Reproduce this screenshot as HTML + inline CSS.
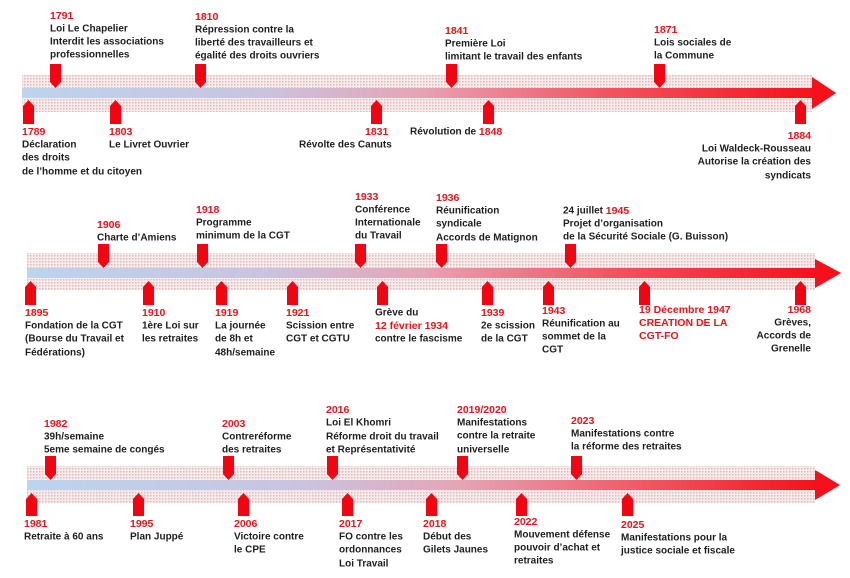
<!DOCTYPE html>
<html><head><meta charset="utf-8"><style>
html,body{margin:0;padding:0;background:#fff;}
svg{display:block}
text{font-family:"Liberation Sans",Arial,sans-serif;font-weight:bold;font-size:10px;fill:#1e1e1e;dominant-baseline:middle}
.y{fill:#e8141c;font-size:10.5px}
.r{text-anchor:end}
</style></head><body>
<svg width="850" height="578" viewBox="0 0 850 578" xmlns="http://www.w3.org/2000/svg">
<defs>
<pattern id="dots" width="3" height="3" patternUnits="userSpaceOnUse">
<rect width="3" height="3" fill="#f6ecec"/>
<rect width="1.5" height="1.5" fill="#e2b9bc"/>
</pattern>
<linearGradient id="g1" x1="0" x2="1">
<stop offset="0" stop-color="#bcd4ee"/><stop offset="0.3" stop-color="#c9c4e0"/>
<stop offset="0.5" stop-color="#e6a4b6"/><stop offset="0.75" stop-color="#f3505e"/><stop offset="1" stop-color="#f5101c"/>
</linearGradient>
<linearGradient id="g3" x1="0" x2="1">
<stop offset="0" stop-color="#bcd4ee"/><stop offset="0.35" stop-color="#c9c4e0"/>
<stop offset="0.55" stop-color="#e6a4b6"/><stop offset="0.8" stop-color="#f3505e"/><stop offset="1" stop-color="#f5101c"/>
</linearGradient>
</defs>

<rect x="22" y="75" width="790" height="37" fill="url(#dots)"/>
<rect x="22" y="88" width="792" height="10" fill="url(#g1)"/>
<polygon points="812,77 836,93 812,109" fill="#f5101c"/>
<rect x="27" y="253" width="788" height="37" fill="url(#dots)"/>
<rect x="27" y="268" width="790" height="10" fill="url(#g1)"/>
<polygon points="815,259 841,273 815,288" fill="#f5101c"/>
<rect x="27" y="466" width="788" height="37" fill="url(#dots)"/>
<rect x="27" y="480" width="790" height="10" fill="url(#g3)"/>
<polygon points="815,470 840,485 815,500" fill="#f5101c"/>

<g fill="#f20510">
<polygon points="50,64 61,64 61,82 55.5,88 50,82"/>
<polygon points="195,64 206,64 206,82 200.5,88 195,82"/>
<polygon points="446,64 457,64 457,82 451.5,88 446,82"/>
<polygon points="654,64 665,64 665,82 659.5,88 654,82"/>
<polygon points="23,124 34,124 34,106 28.5,100 23,106"/>
<polygon points="110,124 121,124 121,106 115.5,100 110,106"/>
<polygon points="371,124 382,124 382,106 376.5,100 371,106"/>
<polygon points="483,124 494,124 494,106 488.5,100 483,106"/>
<polygon points="795,124 806,124 806,106 800.5,100 795,106"/>
<polygon points="98,244 109,244 109,262 103.5,268 98,262"/>
<polygon points="197,244 208,244 208,262 202.5,268 197,262"/>
<polygon points="355,244 366,244 366,262 360.5,268 355,262"/>
<polygon points="436,244 447,244 447,262 441.5,268 436,262"/>
<polygon points="565,244 576,244 576,262 570.5,268 565,262"/>
<polygon points="25,305 36,305 36,287 30.5,281 25,287"/>
<polygon points="143,305 154,305 154,287 148.5,281 143,287"/>
<polygon points="216,305 227,305 227,287 221.5,281 216,287"/>
<polygon points="287,305 298,305 298,287 292.5,281 287,287"/>
<polygon points="377,305 388,305 388,287 382.5,281 377,287"/>
<polygon points="482,305 493,305 493,287 487.5,281 482,287"/>
<polygon points="543,305 554,305 554,287 548.5,281 543,287"/>
<polygon points="639,305 650,305 650,287 644.5,281 639,287"/>
<polygon points="795,305 806,305 806,287 800.5,281 795,287"/>
<polygon points="45,456 56,456 56,474 50.5,480 45,474"/>
<polygon points="223,456 234,456 234,474 228.5,480 223,474"/>
<polygon points="327,456 338,456 338,474 332.5,480 327,474"/>
<polygon points="457,456 468,456 468,474 462.5,480 457,474"/>
<polygon points="571,456 582,456 582,474 576.5,480 571,474"/>
<polygon points="26,516 37,516 37,499 31.5,493 26,499"/>
<polygon points="133,516 144,516 144,499 138.5,493 133,499"/>
<polygon points="238,516 249,516 249,499 243.5,493 238,499"/>
<polygon points="342,516 353,516 353,499 347.5,493 342,499"/>
<polygon points="426,516 437,516 437,499 431.5,493 426,499"/>
<polygon points="516,516 527,516 527,499 521.5,493 516,499"/>
<polygon points="622,516 633,516 633,499 627.5,493 622,499"/>
</g>

<text class="y" x="50" y="16">1791</text>
<text x="50" y="29">Loi Le Chapelier</text>
<text x="50" y="42">Interdit les associations</text>
<text x="50" y="55">professionnelles</text>

<text class="y" x="195" y="17">1810</text>
<text x="195" y="30">Répression contre la</text>
<text x="195" y="43">liberté des travailleurs et</text>
<text x="195" y="56">égalité des droits ouvriers</text>

<text class="y" x="445" y="31">1841</text>
<text x="445" y="44">Première Loi</text>
<text x="445" y="57">limitant le travail  des enfants</text>

<text class="y" x="654" y="30">1871</text>
<text x="654" y="43">Lois sociales de</text>
<text x="654" y="56">la Commune</text>

<text class="y" x="22" y="132">1789</text>
<text x="22" y="145">Déclaration</text>
<text x="22" y="158">des droits</text>
<text x="22" y="172">de l’homme et du citoyen</text>

<text class="y" x="109" y="132">1803</text>
<text x="109" y="145">Le Livret Ouvrier</text>

<text class="y" x="365" y="132">1831</text>
<text x="299" y="145">Révolte des Canuts</text>

<text x="410" y="132">Révolution de <tspan class="y">1848</tspan></text>

<text class="y r" x="811" y="136">1884</text>
<text class="r" x="811" y="149">Loi Waldeck-Rousseau</text>
<text class="r" x="811" y="162">Autorise la création des</text>
<text class="r" x="811" y="176">syndicats</text>

<text class="y" x="97" y="225">1906</text>
<text x="97" y="238">Charte d’Amiens</text>

<text class="y" x="196" y="210">1918</text>
<text x="196" y="223">Programme</text>
<text x="196" y="236">minimum de la CGT</text>

<text class="y" x="355" y="197">1933</text>
<text x="355" y="210">Conférence</text>
<text x="355" y="223">Internationale</text>
<text x="355" y="236">du Travail</text>

<text class="y" x="436" y="198">1936</text>
<text x="436" y="211">Réunification</text>
<text x="436" y="224">syndicale</text>
<text x="436" y="238">Accords de Matignon</text>

<text x="563" y="211">24 juillet <tspan class="y">1945</tspan></text>
<text x="563" y="224">Projet d’organisation</text>
<text x="563" y="237">de la Sécurité Sociale (G. Buisson)</text>

<text class="y" x="25" y="313">1895</text>
<text x="25" y="326">Fondation de la CGT</text>
<text x="25" y="339">(Bourse du Travail et</text>
<text x="25" y="353">Fédérations)</text>

<text class="y" x="142" y="313">1910</text>
<text x="142" y="326">1ère Loi sur</text>
<text x="142" y="339">les retraites</text>

<text class="y" x="215" y="313">1919</text>
<text x="215" y="326">La journée</text>
<text x="215" y="339">de 8h et</text>
<text x="215" y="353">48h/semaine</text>

<text class="y" x="286" y="313">1921</text>
<text x="286" y="326">Scission entre</text>
<text x="286" y="339">CGT et CGTU</text>

<text x="375" y="313">Grève du</text>
<text class="y" x="375" y="326">12 février 1934</text>
<text x="375" y="339">contre le fascisme</text>

<text class="y" x="481" y="313">1939</text>
<text x="481" y="326">2e scission</text>
<text x="481" y="339">de la CGT</text>

<text class="y" x="542" y="311">1943</text>
<text x="542" y="324">Réunification  au</text>
<text x="542" y="337">sommet de la</text>
<text x="542" y="350">CGT</text>

<text class="y" x="639" y="310">19 Décembre 1947</text>
<text class="y" x="639" y="323">CREATION DE LA</text>
<text class="y" x="639" y="336">CGT-FO</text>

<text class="y r" x="811" y="310">1968</text>
<text class="r" x="811" y="323">Grèves,</text>
<text class="r" x="811" y="336">Accords de</text>
<text class="r" x="811" y="349">Grenelle</text>

<text class="y" x="44" y="424">1982</text>
<text x="44" y="437">39h/semaine</text>
<text x="44" y="450">5eme semaine de congés</text>

<text class="y" x="222" y="424">2003</text>
<text x="222" y="437">Contreréforme</text>
<text x="222" y="450">des retraites</text>

<text class="y" x="326" y="410">2016</text>
<text x="326" y="423">Loi El Khomri</text>
<text x="326" y="437">Réforme droit du travail</text>
<text x="326" y="450">et Représentativité</text>

<text class="y" x="457" y="410">2019/2020</text>
<text x="457" y="423">Manifestations</text>
<text x="457" y="436">contre la retraite</text>
<text x="457" y="450">universelle</text>

<text class="y" x="571" y="421">2023</text>
<text x="571" y="434">Manifestations contre</text>
<text x="571" y="447">la réforme des retraites</text>

<text class="y" x="24" y="524">1981</text>
<text x="24" y="537">Retraite à 60 ans</text>

<text class="y" x="130" y="524">1995</text>
<text x="130" y="537">Plan Juppé</text>

<text class="y" x="234" y="524">2006</text>
<text x="234" y="537">Victoire contre</text>
<text x="234" y="550">le CPE</text>

<text class="y" x="339" y="524">2017</text>
<text x="339" y="537">FO contre les</text>
<text x="339" y="550">ordonnances</text>
<text x="339" y="564">Loi Travail</text>

<text class="y" x="423" y="524">2018</text>
<text x="423" y="537">Début des</text>
<text x="423" y="550">Gilets Jaunes</text>

<text class="y" x="514" y="522">2022</text>
<text x="514" y="535">Mouvement défense</text>
<text x="514" y="548">pouvoir d’achat et</text>
<text x="514" y="561">retraites</text>

<text class="y" x="621" y="525">2025</text>
<text x="621" y="538">Manifestations pour la</text>
<text x="621" y="551">justice sociale et fiscale</text>
</svg>
</body></html>
